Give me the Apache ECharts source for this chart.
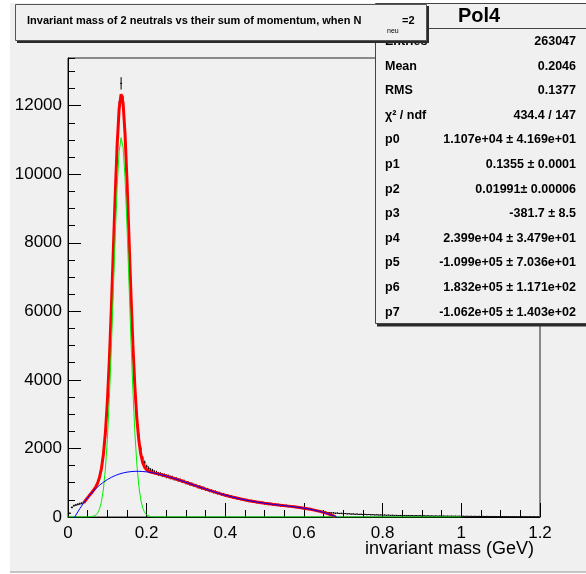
<!DOCTYPE html>
<html>
<head>
<meta charset="utf-8">
<script src="https://cdn.jsdelivr.net/npm/echarts@6/dist/echarts.min.js"></script>
<style>
html,body{margin:0;padding:0;background:#fff;}
#wrap{position:relative;width:586px;height:574px;background:#fff;overflow:hidden;}
#canvasbg{position:absolute;left:10px;top:3px;width:576px;height:568px;background:#f0f0f0;border-bottom:2px solid #c4c4c4;}
#chart{position:absolute;left:0;top:0;width:586px;height:574px;}
</style>
</head>
<body>
<div id="wrap"><div id="canvasbg"></div><div id="chart"></div></div>
<script>
// ---------- data ----------
const binStart = 0.005;   // centre of first histogram bin
const binWidth = 0.005;
const histCounts = [
  110,280,330,350,370,385,400,430,480,560,
  640,705,785,865,985,1145,1415,1845,2425,3375,
  4525,6065,7665,9415,10825,11955,12650,12115,11135,9835,
  8205,6545,5085,3885,2995,2375,1985,1715,1585,1465,
  1415,1365,1345,1305,1290,1258,1250,1222,1216,1186,
  1184,1154,1150,1116,1114,1081,1076,1041,1039,1001,
  999,962,959,921,919,881,880,844,842,804,
  804,766,766,731,730,694,694,660,662,628,
  630,596,598,568,570,541,544,514,519,491,
  496,468,474,446,453,426,434,408,417,392,
  402,376,387,362,373,348,359,334,346,321,
  332,308,319,294,305,280,291,264,274,248,
  256,228,236,208,214,192,189,168,164,146,
  144,128,130,117,121,109,114,102,107,96,
  101,91,95,85,89,80,85,76,79,71,
  76,68,72,64,68,60,64,57,61,54,
  58,51,55,48,52,45,49,43,46,41,
  45,39,43,37,41,35,39,33,37,31,
  36,30,34,28,33,27,31,26,30,25,
  29,24,28,23,27,22,26,21,25,20,
  24,19,23,18,22,17,21,16,20,15,
  19,14,18,13,17,12,16,11,15,10,
  14,9,13,8,12,7,11,6,10,5,
  9,4,8,3,7,2,6,1,5
];
const errScale = 1.6;

const redX = [0.040,0.045,0.050,0.055,0.060,0.065,0.070,0.075,0.080,0.085,0.090,0.095,0.100,0.105,0.110,0.115,0.120,0.125,0.130,0.135,0.140,0.145,0.150,0.155,0.160,0.165,0.170,0.175,0.180,0.185,0.190,0.195,0.200,0.205,0.210,0.215,0.220,
  0.23,0.24,0.25,0.26,0.27,0.28,0.29,0.30,0.31,0.32,0.33,0.34,0.35,0.36,0.37,0.38,0.39,0.40,
  0.42,0.44,0.46,0.48,0.50,0.52,0.54,0.56,0.58,0.60,0.62,0.64,0.66,0.68];
const redY = [414,490,566,637,708,782,869,981,1152,1413,1828,2451,3349,4548,6030,7699,9385,10864,11908,12336,12076,11176,9801,8169,6516,5021,3798,2880,2244,1833,1588,1449,1374,1333,1310,1293,1280,
  1254,1226,1195,1161,1125,1088,1050,1011,971,931,891,852,813,775,739,703,669,636,
  576,523,476,435,401,371,343,317,289,256,216,164,97,11];

const greenX = [0,0.050,0.055,0.060,0.065,0.070,0.075,0.080,0.085,0.090,0.095,0.100,0.105,0.110,0.115,0.120,0.125,0.130,0.135,0.140,0.145,0.150,0.155,0.160,0.165,0.170,0.175,0.180,0.185,0.190,0.195,0.200,0.205,0.210,0.215,0.220,1.0];
const greenY = [0,1,3,8,21,50,109,228,444,814,1398,2258,3424,4874,6516,8176,9633,10656,11067,10791,9879,8492,6852,5192,3693,2466,1547,911,503,261,127,58,25,10,4,1,0];

const blueX = [0,0.01,0.02,0.03,0.04,0.05,0.06,0.07,0.08,0.09,0.10,0.11,0.12,0.13,0.14,0.15,0.16,0.17,0.18,0.19,0.20,0.21,0.22,0.23,0.24,0.25,0.26,0.27,0.28,0.29,0.30,0.31,0.32,0.33,0.34,0.35,0.36,0.37,0.38,0.39,0.40,
  0.42,0.44,0.46,0.48,0.50,0.52,0.54,0.56,0.58,0.60,0.62,0.64,0.66,0.68,0.70];
const blueY = [-382,-153,56,244,414,565,700,819,924,1014,1091,1156,1209,1252,1285,1309,1324,1332,1333,1327,1316,1300,1279,1254,1226,1195,1161,1125,1088,1050,1011,971,931,891,852,813,775,739,703,669,636,
  576,523,476,435,401,371,343,317,289,256,216,164,97,11,-101];

const xTicks = {min:0, max:1.2, interval:0.2};
const yTicks = {min:0, max:13390, interval:2000, minorInterval:500};

const titleMain = 'Invariant mass of 2 neutrals vs their sum of momentum, when N';
const titleSub = 'neu';
const titleTail = '=2';
const statsTitle = 'Pol4';
const statLabels = ['Entries','Mean','RMS','\u03c7\u00b2 / ndf','p0','p1','p2','p3','p4','p5','p6','p7'];
const statValues = ['263047','0.2046','0.1377','434.4 / 147',
  '1.107e+04 \u00b1 4.169e+01','0.1355 \u00b1 0.0001','0.01991\u00b1 0.00006','-381.7 \u00b1 8.5',
  '2.399e+04 \u00b1 3.479e+01','-1.099e+05 \u00b1 7.036e+01','1.832e+05 \u00b1 1.171e+02','-1.062e+05 \u00b1 1.403e+02'];
const xAxisTitle = 'invariant mass (GeV)';

// ---------- build ----------
const FONT = '"Liberation Sans", Arial, Helvetica, sans-serif';
const histData = histCounts.map((v,i)=>[+(binStart+i*binWidth).toFixed(4), v]);
const zip = (xs,ys)=>xs.map((x,i)=>[x,ys[i]]);

const chart = echarts.init(document.getElementById('chart'), null, {renderer:'canvas'});

const graphics = [];
// stats box (shadow + box)
graphics.push({type:'rect', z:50, shape:{x:377, y:5.5, width:215, height:321}, style:{fill:'#2a2a2a'}});
graphics.push({type:'rect', z:51, shape:{x:375.5, y:3.5, width:215, height:320}, style:{fill:'#f0f0f0', stroke:'#444', lineWidth:1}});
graphics.push({type:'line', z:52, shape:{x1:375, y1:28.5, x2:586, y2:28.5}, style:{stroke:'#444', lineWidth:1}});
graphics.push({type:'text', z:52, style:{text:statsTitle, x:479, y:16, align:'center', verticalAlign:'middle', font:'bold 20px '+FONT, fill:'#000'}});
statLabels.forEach((lab,i)=>{
  const y = 41.5 + 24.6*i;
  graphics.push({type:'text', z:52, style:{text:lab, x:385, y:y, align:'left', verticalAlign:'middle', font:'bold 12.5px '+FONT, fill:'#000'}});
  graphics.push({type:'text', z:52, style:{text:statValues[i], x:576, y:y, align:'right', verticalAlign:'middle', font:'bold 12.5px '+FONT, fill:'#000'}});
});
// title box
graphics.push({type:'rect', z:60, shape:{x:17, y:6, width:412, height:37}, style:{fill:'#2a2a2a'}});
graphics.push({type:'rect', z:61, shape:{x:15.5, y:4.5, width:411, height:36}, style:{fill:'#f0f0f0', stroke:'#555', lineWidth:1}});
graphics.push({type:'text', z:62, style:{text:titleMain, x:27, y:21, align:'left', verticalAlign:'middle', font:'bold 11px '+FONT, fill:'#000'}});
graphics.push({type:'text', z:62, style:{text:titleSub, x:387, y:31, align:'left', verticalAlign:'middle', font:'7px '+FONT, fill:'#000'}});
graphics.push({type:'text', z:62, style:{text:titleTail, x:402, y:21, align:'left', verticalAlign:'middle', font:'bold 11px '+FONT, fill:'#000'}});
// x axis title
graphics.push({type:'text', z:40, style:{text:xAxisTitle, x:534, y:549, align:'right', verticalAlign:'middle', font:'18px '+FONT, fill:'#000'}});

const option = {
  backgroundColor:'transparent',
  animation:false,
  grid:{left:68, right:46, top:58, bottom:57, show:true, borderColor:'#222', borderWidth:1, backgroundColor:'transparent'},
  xAxis:{
    type:'value', min:xTicks.min, max:xTicks.max, interval:xTicks.interval,
    axisLine:{show:true, lineStyle:{color:'#000', width:1}},
    axisTick:{show:true, inside:true, length:14, lineStyle:{color:'#000'}},
    minorTick:{show:true, splitNumber:4, length:7, lineStyle:{color:'#000'}},
    splitLine:{show:false},
    axisLabel:{fontSize:17, color:'#000', fontFamily:FONT, margin:8}
  },
  yAxis:[{
    type:'value', min:yTicks.min, max:yTicks.max, interval:yTicks.interval, position:'left',
    axisLine:{show:true, lineStyle:{color:'#000', width:1}},
    axisTick:{show:true, inside:true, length:13, lineStyle:{color:'#000'}},
    splitLine:{show:false},
    axisLabel:{fontSize:17, color:'#000', fontFamily:FONT, margin:6, showMaxLabel:false,
      formatter:v=> (v % yTicks.interval === 0) ? String(v) : ''}
  },{
    type:'value', min:yTicks.min, max:yTicks.max, interval:yTicks.minorInterval, position:'left', offset:0,
    axisLine:{show:false},
    axisTick:{show:true, inside:true, length:7, lineStyle:{color:'#000'}},
    splitLine:{show:false},
    axisLabel:{show:false}
  }],
  graphic:{elements:graphics},
  series:[
    {
      type:'custom', name:'data', z:2, clip:true,
      data:histData,
      renderItem:(params, api)=>{
        const x = api.value(0), y = api.value(1);
        const p = api.coord([x,y]);
        const pl = api.coord([x-binWidth/2, y]);
        const pr = api.coord([x+binWidth/2, y]);
        const e = Math.sqrt(Math.max(y,0))*errScale;
        const pt = api.coord([x, y+e]);
        const pb = api.coord([x, Math.max(0,y-e)]);
        return {type:'group', children:[
          {type:'line', shape:{x1:pl[0], y1:p[1], x2:pr[0], y2:p[1]}, style:{stroke:'#000', lineWidth:1}},
          {type:'line', shape:{x1:p[0], y1:pt[1], x2:p[0], y2:pb[1]}, style:{stroke:'#000', lineWidth:1}}
        ]};
      }
    },
    {type:'line', name:'fit', z:3, data:zip(redX,redY), showSymbol:false, symbol:'none', clip:true,
      lineStyle:{color:'#ff0000', width:3}},
    {type:'line', name:'gaus', z:4, data:zip(greenX,greenY), showSymbol:false, symbol:'none', clip:true,
      lineStyle:{color:'#00ee00', width:1}},
    {type:'line', name:'pol4', z:5, data:zip(blueX,blueY), showSymbol:false, symbol:'none', clip:true,
      lineStyle:{color:'#0000ff', width:1}}
  ]
};
chart.setOption(option);
</script>
</body>
</html>
